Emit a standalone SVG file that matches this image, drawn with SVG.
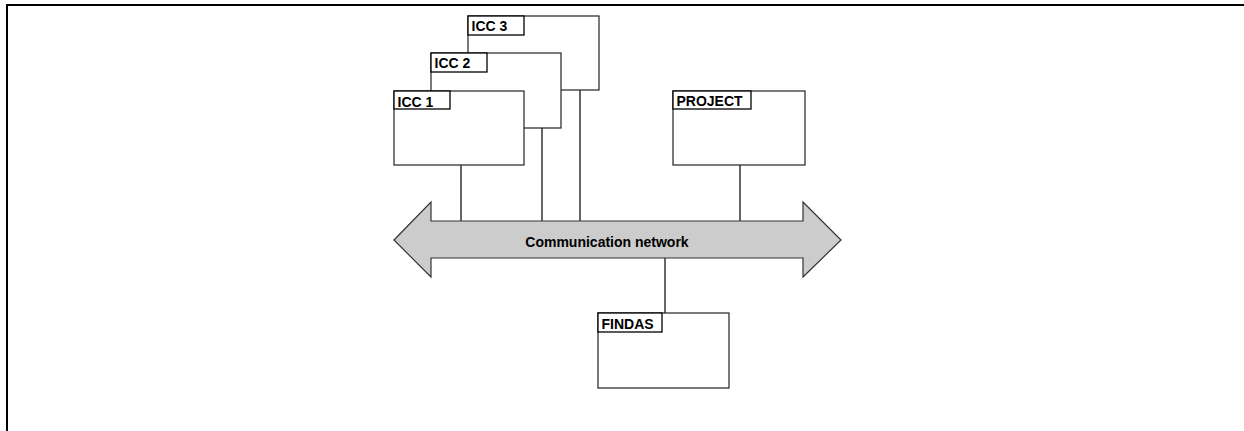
<svg xmlns="http://www.w3.org/2000/svg" width="1244" height="431" viewBox="0 0 1244 431">
<style>
.box{fill:#fff;stroke:#222;stroke-width:1.2}
.lbl{fill:#fff;stroke:#000;stroke-width:1.3}
.t{font-family:"Liberation Sans",Arial,sans-serif;font-weight:bold;font-size:14px;fill:#000}
.c{stroke:#000;stroke-width:1.2;fill:none}
</style>
<rect width="1244" height="431" fill="#fff"/>
<path d="M7,431 V5 H1244" fill="none" stroke="#000" stroke-width="2"/>
<g id="connectors">
<line class="c" x1="461" y1="165" x2="461" y2="221"/>
<line class="c" x1="542" y1="128" x2="542" y2="221"/>
<line class="c" x1="580" y1="90" x2="580" y2="221"/>
<line class="c" x1="740" y1="165" x2="740" y2="221"/>
<line class="c" x1="665" y1="258" x2="665" y2="313"/>
</g>
<g id="network">
<polygon points="394,240 431,202 431,221 803,221 803,202 841,240 803,277 803,258 431,258 431,277" fill="#cccccc" stroke="#333" stroke-width="1.2"/>
<text class="t" x="607" y="247" text-anchor="middle" font-size="14.2">Communication network</text>
</g>
<g id="icc3">
<rect class="box" x="468" y="16" width="131" height="74"/>
<rect class="lbl" x="468" y="16" width="56" height="19"/>
<text class="t" x="471.5" y="31">ICC 3</text>
</g>
<g id="icc2">
<rect class="box" x="431" y="53" width="130" height="75"/>
<rect class="lbl" x="431" y="53" width="56" height="19"/>
<text class="t" x="434.5" y="68">ICC 2</text>
</g>
<g id="icc1">
<rect class="box" x="394" y="91" width="130" height="74"/>
<rect class="lbl" x="394" y="91" width="56" height="18"/>
<text class="t" x="397.5" y="106.5">ICC 1</text>
</g>
<g id="project">
<rect class="box" x="673" y="91" width="132" height="74"/>
<rect class="lbl" x="673" y="91" width="78" height="18"/>
<text class="t" x="676.5" y="106">PROJECT</text>
</g>
<g id="findas">
<rect class="box" x="598" y="313" width="131" height="75"/>
<rect class="lbl" x="598" y="313" width="64" height="19"/>
<text class="t" x="601.5" y="328.5">FINDAS</text>
</g>
</svg>
